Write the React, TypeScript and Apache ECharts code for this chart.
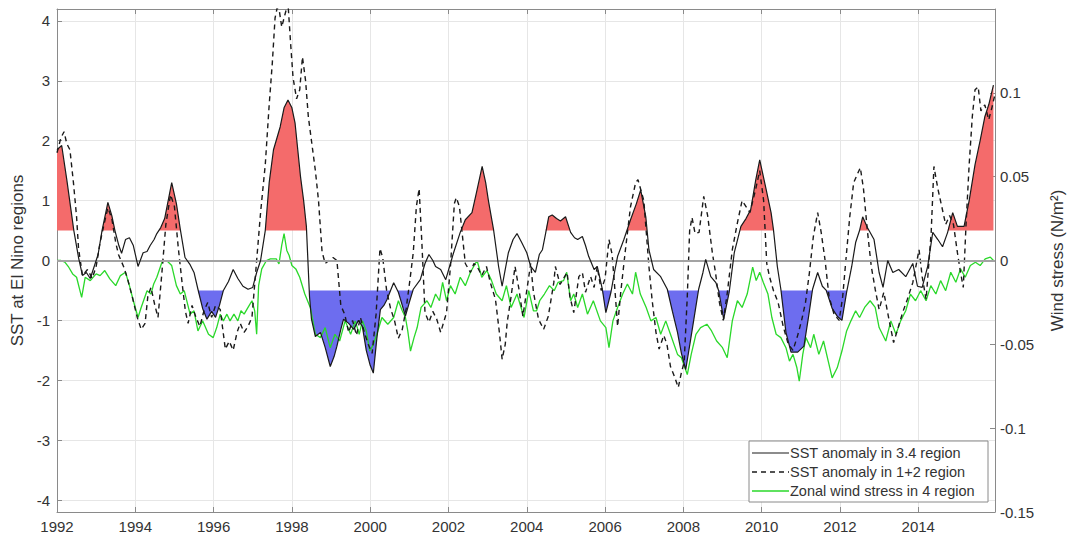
import React, { useEffect, useRef } from "react";
import * as echarts from "echarts";

// Monthly-ish SST anomaly in the Niño 3.4 region (°C)
const sst34Time = [
  1992.0, 1992.12, 1992.25, 1992.43, 1992.55, 1992.65, 1992.75, 1992.85, 1992.95, 1993.05,
  1993.15, 1993.3, 1993.4, 1993.48, 1993.58, 1993.65, 1993.75, 1993.85, 1993.95, 1994.07,
  1994.2, 1994.3, 1994.38, 1994.48, 1994.55, 1994.65, 1994.75, 1994.93, 1995.05, 1995.15,
  1995.27, 1995.4, 1995.5, 1995.6, 1995.72, 1995.83, 1995.95, 1996.05, 1996.15, 1996.25,
  1996.38, 1996.5, 1996.62, 1996.75, 1996.88, 1997.0, 1997.1, 1997.2, 1997.32, 1997.42,
  1997.53, 1997.62, 1997.7, 1997.8, 1997.9, 1998.0, 1998.08, 1998.15, 1998.22, 1998.3,
  1998.37, 1998.45, 1998.5, 1998.6, 1998.73, 1998.85, 1998.98, 1999.08, 1999.15, 1999.25,
  1999.32, 1999.45, 1999.58, 1999.7, 1999.8, 1999.9, 2000.0, 2000.08, 2000.17, 2000.26,
  2000.35, 2000.43, 2000.52, 2000.6, 2000.72, 2000.82, 2000.9, 2001.0, 2001.1, 2001.28,
  2001.4, 2001.5, 2001.6, 2001.67, 2001.8, 2001.93, 2002.05, 2002.13, 2002.3, 2002.43,
  2002.6, 2002.72, 2002.86, 2002.95, 2003.02, 2003.15, 2003.28, 2003.37, 2003.45, 2003.53,
  2003.65, 2003.75, 2003.87, 2004.0, 2004.1, 2004.22, 2004.32, 2004.4, 2004.48, 2004.56,
  2004.65, 2004.76, 2004.86, 2004.99, 2005.12, 2005.22, 2005.3, 2005.42, 2005.5, 2005.58,
  2005.72, 2005.8, 2005.93, 2006.02, 2006.15, 2006.24, 2006.32, 2006.48, 2006.65, 2006.8,
  2006.91, 2007.04, 2007.12, 2007.24, 2007.42, 2007.59, 2007.72, 2007.85, 2007.95, 2008.06,
  2008.19, 2008.3, 2008.39, 2008.5, 2008.57, 2008.7, 2008.83, 2008.9, 2009.03, 2009.17,
  2009.3, 2009.47, 2009.6, 2009.72, 2009.85, 2009.95, 2010.1, 2010.24, 2010.3, 2010.4,
  2010.49, 2010.62, 2010.75, 2010.92, 2011.08, 2011.2, 2011.3, 2011.43, 2011.55, 2011.65,
  2011.8, 2011.93, 2012.05, 2012.17, 2012.3, 2012.4, 2012.5, 2012.58, 2012.7, 2012.87,
  2013.0, 2013.1, 2013.22, 2013.35, 2013.5, 2013.68, 2013.86, 2013.98, 2014.1, 2014.24,
  2014.37, 2014.5, 2014.62, 2014.75, 2014.88, 2015.0, 2015.17, 2015.3, 2015.45, 2015.58,
  2015.7, 2015.8, 2015.92,
];
const sst34Value = [
  1.85, 1.92, 1.35, 0.5, 0.05, -0.25, -0.2, -0.3, -0.1, 0.1,
  0.5, 0.97, 0.75, 0.5, 0.25, 0.12, 0.35, 0.38, 0.25, -0.1,
  0.13, 0.15, 0.25, 0.35, 0.45, 0.55, 0.7, 1.3, 0.95, 0.52,
  0.05, -0.07, -0.2, -0.48, -0.8, -0.98, -0.85, -0.95, -0.75, -0.5,
  -0.35, -0.15, -0.3, -0.43, -0.48, -0.45, -0.2, 0.0, 0.5, 1.3,
  1.85, 2.05, 2.23, 2.55, 2.68, 2.55, 2.3, 1.85, 1.4, 1.0,
  0.57, -0.6, -0.98, -1.27, -1.2, -1.45, -1.77, -1.6, -1.43, -1.15,
  -0.98, -1.05, -1.15, -1.0, -1.1, -1.5, -1.75, -1.88, -1.3, -0.82,
  -0.75, -0.65, -0.5, -0.37, -0.53, -0.75, -0.93, -0.7, -0.48, -0.32,
  -0.05, 0.1, 0.0, -0.1, -0.15, -0.32, -0.05, 0.13, 0.47, 0.68,
  0.8, 1.15, 1.57, 1.3, 1.0, 0.52, -0.1, -0.43, -0.15, 0.13,
  0.35, 0.45, 0.3, 0.13, -0.1, -0.2, 0.1, 0.18, 0.45, 0.73,
  0.76, 0.7, 0.66, 0.73, 0.47, 0.38, 0.35, 0.4, 0.25, 0.07,
  -0.15, -0.1, -0.48, -0.87, -0.53, -0.2, 0.07, 0.35, 0.68, 0.95,
  1.18, 0.73, 0.18, -0.15, -0.27, -0.48, -0.85, -1.2, -1.55, -1.82,
  -1.3, -0.85, -0.48, -0.2, 0.02, -0.27, -0.37, -0.5, -0.98, -0.53,
  0.13, 0.57, 0.7, 0.85, 1.35, 1.68, 1.23, 0.8, 0.52, -0.1,
  -0.48, -1.2, -1.53, -1.53, -1.43, -0.93, -0.48, -0.2, -0.43, -0.5,
  -0.8, -0.93, -1.0, -0.53, -0.1, 0.3, 0.5, 0.73, 0.55, 0.35,
  -0.2, -0.45, 0.0, -0.2, -0.15, -0.27, -0.05, -0.43, -0.45, -0.1,
  0.47, 0.35, 0.23, 0.47, 0.8, 0.57, 0.57, 1.0, 1.6, 2.0,
  2.4, 2.6, 2.93,
];

// SST anomaly in the Niño 1+2 region (°C)
const sst12Time = [
  1992.0, 1992.1, 1992.18, 1992.25, 1992.33, 1992.42, 1992.5, 1992.55, 1992.65, 1992.78,
  1992.9, 1993.0, 1993.1, 1993.2, 1993.3, 1993.4, 1993.5, 1993.57, 1993.7, 1993.8,
  1993.92, 1994.05, 1994.15, 1994.25, 1994.32, 1994.4, 1994.5, 1994.58, 1994.68, 1994.78,
  1994.9, 1995.0, 1995.1, 1995.2, 1995.28, 1995.35, 1995.45, 1995.55, 1995.65, 1995.75,
  1995.85, 1995.95, 1996.05, 1996.17, 1996.3, 1996.4, 1996.5, 1996.6, 1996.68, 1996.78,
  1996.88, 1996.98, 1997.1, 1997.2, 1997.32, 1997.42, 1997.5, 1997.57, 1997.65, 1997.74,
  1997.82, 1997.9, 1997.97, 1998.03, 1998.12, 1998.2, 1998.27, 1998.35, 1998.42, 1998.5,
  1998.6, 1998.68, 1998.77, 1998.85, 1998.95, 1999.05, 1999.15, 1999.25, 1999.35, 1999.45,
  1999.55, 1999.65, 1999.75, 1999.85, 1999.95, 2000.05, 2000.15, 2000.25, 2000.32, 2000.42,
  2000.52, 2000.62, 2000.72, 2000.82, 2000.92, 2001.02, 2001.1, 2001.18, 2001.25, 2001.32,
  2001.4, 2001.5, 2001.6, 2001.7, 2001.8, 2001.95, 2002.05, 2002.15, 2002.2, 2002.28,
  2002.35, 2002.43, 2002.56, 2002.65, 2002.73, 2002.85, 2002.97, 2003.07, 2003.2, 2003.3,
  2003.37, 2003.45, 2003.5, 2003.6, 2003.7, 2003.8, 2003.9, 2004.0, 2004.1, 2004.17,
  2004.3, 2004.43, 2004.55, 2004.69, 2004.73, 2004.85, 2005.03, 2005.1, 2005.2, 2005.33,
  2005.42, 2005.5, 2005.63, 2005.72, 2005.8, 2005.9, 2006.0, 2006.1, 2006.18, 2006.27,
  2006.32, 2006.4, 2006.52, 2006.65, 2006.78, 2006.84, 2006.99, 2007.12, 2007.2, 2007.3,
  2007.38, 2007.5, 2007.58, 2007.67, 2007.78, 2007.87, 2007.95, 2008.02, 2008.1, 2008.16,
  2008.22, 2008.3, 2008.4, 2008.52, 2008.62, 2008.74, 2008.82, 2008.92, 2009.02, 2009.12,
  2009.25, 2009.38, 2009.5, 2009.6, 2009.7, 2009.85, 2009.95, 2010.05, 2010.13, 2010.2,
  2010.3, 2010.42, 2010.55, 2010.68, 2010.8, 2010.92, 2011.02, 2011.12, 2011.22, 2011.32,
  2011.43, 2011.52, 2011.62, 2011.72, 2011.85, 2011.98, 2012.07, 2012.15, 2012.25, 2012.35,
  2012.45, 2012.52, 2012.6, 2012.7, 2012.8, 2012.9, 2013.0, 2013.12, 2013.25, 2013.37,
  2013.45, 2013.6, 2013.72, 2013.86, 2014.02, 2014.1, 2014.2, 2014.33, 2014.4, 2014.5,
  2014.6, 2014.7, 2014.8, 2014.9, 2015.0, 2015.08, 2015.15, 2015.22, 2015.3, 2015.38,
  2015.45, 2015.53, 2015.6, 2015.7, 2015.8, 2015.88, 2015.95,
];
const sst12Value = [
  1.8, 2.05, 2.15, 1.95, 1.85, 1.3, 0.73, 0.2, -0.25, -0.15,
  -0.3, -0.1, 0.3, 0.6, 0.88, 0.7, 0.3, 0.1, -0.1, -0.3,
  -0.6, -0.95, -1.15, -1.05, -0.6, -0.45, -0.75, -0.95, -0.2, 0.6,
  1.1, 0.9, 0.2, -0.4, -0.85, -1.05, -0.75, -0.95, -1.1, -0.85,
  -0.7, -0.95, -0.75, -0.82, -1.48, -1.35, -1.5, -1.2, -1.05, -1.2,
  -1.1, -0.95, 0.0, 0.8, 1.6, 2.6, 3.3, 4.05, 4.3, 3.9,
  4.1, 4.3, 3.6, 3.05, 2.7, 2.85, 3.4, 3.0, 2.4, 2.0,
  1.5, 1.0, 0.15, -0.05, 0.0, 0.05, 0.0, -0.75, -0.9, -1.2,
  -1.0, -1.25, -0.95, -1.2, -1.4, -1.55, -0.9, 0.2, 0.05, -0.5,
  -0.8, -1.0, -1.3, -1.15, -0.8, -0.3, 0.13, 0.9, 1.2, 0.3,
  -0.87, -1.03, -0.85, -0.98, -1.2, -0.87, -0.1, 0.95, 1.05, 0.9,
  0.45, -0.05, -0.2, -0.05, -0.1, -0.25, -0.1, -0.37, -0.65, -1.2,
  -1.65, -1.4, -1.03, -0.6, -0.1, -0.48, -0.93, -0.5, -0.05, -0.53,
  -0.98, -1.15, -0.93, -0.37, -0.1, -0.4, -0.2, -0.6, -0.87, -0.27,
  -0.2, -0.53, -0.27, -0.45, -0.1, -0.5, -0.3, 0.35, 0.1, -0.65,
  -1.1, -0.53, 0.18, 0.9, 1.3, 1.35, 1.0, -0.1, -0.65, -1.2,
  -1.48, -1.25, -1.4, -1.77, -1.95, -2.12, -1.87, -1.7, -0.6, 0.5,
  0.72, 0.45, 0.47, 1.07, 0.75, 0.13, -0.2, -0.7, -1.0, -0.55,
  0.18, 0.63, 1.0, 0.9, 0.8, 1.2, 1.5, 1.0, -0.05, -0.27,
  -0.5, -0.7, -1.1, -1.4, -1.5, -1.25, -1.0, -0.7, -0.2, 0.4,
  0.8, 0.47, 0.0, -0.6, -0.9, -1.0, -0.6, 0.0, 0.73, 1.3,
  1.45, 1.55, 1.2, 0.5, -0.1, -0.48, -0.82, -0.53, -0.98, -1.37,
  -1.2, -0.87, -0.65, -0.37, 0.18, -0.27, -0.65, 0.47, 1.57, 1.2,
  0.9, 0.6, 0.75, 0.6, 0.13, -0.2, -0.45, 0.6, 1.6, 2.4,
  2.85, 2.9, 2.5, 2.6, 2.35, 2.55, 2.75,
];

// Zonal wind stress in the Niño 4 region (N/m²)
const windTime = [
  1992.0, 1992.1, 1992.2, 1992.3, 1992.4, 1992.5, 1992.63, 1992.72, 1992.85, 1993.0,
  1993.1, 1993.22, 1993.35, 1993.5, 1993.62, 1993.75, 1993.85, 1993.95, 1994.07, 1994.15,
  1994.3, 1994.4, 1994.47, 1994.55, 1994.68, 1994.8, 1994.93, 1995.05, 1995.15, 1995.25,
  1995.4, 1995.5, 1995.6, 1995.72, 1995.87, 1995.99, 1996.08, 1996.17, 1996.25, 1996.34,
  1996.42, 1996.52, 1996.62, 1996.7, 1996.78, 1996.88, 1996.98, 1997.05, 1997.1, 1997.15,
  1997.23, 1997.35, 1997.45, 1997.6, 1997.67, 1997.74, 1997.8, 1997.87, 1997.93, 1998.0,
  1998.1, 1998.2, 1998.33, 1998.47, 1998.6, 1998.73, 1998.85, 1998.98, 1999.1, 1999.22,
  1999.36, 1999.5, 1999.62, 1999.72, 1999.8, 1999.9, 1999.99, 2000.08, 2000.17, 2000.3,
  2000.45, 2000.6, 2000.72, 2000.82, 2000.9, 2000.96, 2001.03, 2001.12, 2001.2, 2001.3,
  2001.45, 2001.55, 2001.67, 2001.77, 2001.85, 2001.95, 2002.05, 2002.17, 2002.3, 2002.43,
  2002.56, 2002.73, 2002.85, 2002.98, 2003.1, 2003.22, 2003.37, 2003.48, 2003.6, 2003.75,
  2003.93, 2004.05, 2004.17, 2004.25, 2004.33, 2004.45, 2004.58, 2004.7, 2004.8, 2004.94,
  2005.02, 2005.12, 2005.2, 2005.3, 2005.42, 2005.55, 2005.7, 2005.88, 2006.02, 2006.1,
  2006.2, 2006.32, 2006.45, 2006.57, 2006.7, 2006.78, 2006.9, 2007.05, 2007.17, 2007.3,
  2007.42, 2007.55, 2007.67, 2007.85, 2007.95, 2008.1, 2008.2, 2008.32, 2008.44, 2008.6,
  2008.72, 2008.85, 2009.0, 2009.12, 2009.25, 2009.38, 2009.5, 2009.63, 2009.77, 2009.86,
  2009.95, 2010.04, 2010.16, 2010.26, 2010.37, 2010.49, 2010.62, 2010.71, 2010.8, 2010.9,
  2010.96, 2011.05, 2011.13, 2011.25, 2011.33, 2011.46, 2011.58, 2011.7, 2011.8, 2011.93,
  2012.05, 2012.17, 2012.28, 2012.4, 2012.5, 2012.63, 2012.77, 2012.9, 2013.0, 2013.17,
  2013.3, 2013.43, 2013.55, 2013.68, 2013.8, 2013.93, 2014.06, 2014.2, 2014.32, 2014.45,
  2014.57, 2014.7, 2014.83, 2014.96, 2015.08, 2015.2, 2015.33, 2015.46, 2015.58, 2015.71,
  2015.84, 2015.92,
];
const windValue = [
  0.0, 0.0, -0.001, -0.004, -0.008, -0.01, -0.022, -0.01, -0.012, -0.008,
  -0.009, -0.006, -0.011, -0.015, -0.009, -0.007, -0.015, -0.024, -0.034, -0.028,
  -0.018, -0.02, -0.014, -0.01, -0.001, 0.0, -0.003, -0.015, -0.02, -0.018,
  -0.032, -0.03, -0.042, -0.036, -0.044, -0.046, -0.04, -0.032, -0.036, -0.032,
  -0.036, -0.032, -0.036, -0.03, -0.032, -0.028, -0.024, -0.03, -0.044, -0.015,
  -0.005, 0.0, 0.001, 0.001, -0.002, 0.009, 0.016, 0.006, 0.003, -0.003,
  -0.005, -0.01, -0.02, -0.028, -0.044, -0.046, -0.04, -0.052, -0.044, -0.048,
  -0.036, -0.044, -0.036, -0.044, -0.036, -0.042, -0.054, -0.05, -0.044, -0.034,
  -0.038, -0.034, -0.024, -0.03, -0.034, -0.042, -0.054, -0.046, -0.04, -0.028,
  -0.024, -0.028, -0.02, -0.024, -0.013, -0.024, -0.015, -0.02, -0.01, -0.015,
  -0.007, 0.0, -0.01, -0.006, -0.012, -0.02, -0.024, -0.015, -0.028, -0.02,
  -0.034, -0.018, -0.03, -0.03, -0.024, -0.02, -0.015, -0.018, -0.013, -0.012,
  -0.007, -0.024, -0.02, -0.028, -0.02, -0.032, -0.024, -0.036, -0.04, -0.052,
  -0.036, -0.028, -0.02, -0.014, -0.02, -0.007, -0.02, -0.028, -0.036, -0.034,
  -0.044, -0.036, -0.044, -0.056, -0.058, -0.068, -0.056, -0.044, -0.04, -0.038,
  -0.042, -0.048, -0.052, -0.058, -0.036, -0.024, -0.028, -0.02, -0.004, -0.012,
  -0.007, -0.013, -0.02, -0.034, -0.044, -0.046, -0.052, -0.06, -0.056, -0.064,
  -0.072, -0.056, -0.046, -0.052, -0.044, -0.056, -0.048, -0.06, -0.07, -0.064,
  -0.054, -0.042, -0.036, -0.03, -0.034, -0.028, -0.024, -0.028, -0.04, -0.048,
  -0.036, -0.044, -0.036, -0.03, -0.02, -0.024, -0.018, -0.024, -0.015, -0.02,
  -0.012, -0.018, -0.007, -0.013, -0.005, -0.01, -0.003, -0.001, -0.003, 0.001,
  0.002, 0.0,
];

// Tick positions
const yearTicks = [1992, 1994, 1996, 1998, 2000, 2002, 2004, 2006, 2008, 2010, 2012, 2014];
const sstTicks = [-4, -3, -2, -1, 0, 1, 2, 3, 4];
const windTicks = [-0.15, -0.1, -0.05, 0, 0.05, 0.1];

// El Niño / La Niña thresholds on the 3.4 index
const warmThreshold = 0.5;
const coldThreshold = -0.5;

const legendLabels = [
  "SST anomaly in 3.4 region",
  "SST anomaly in 1+2 region",
  "Zonal wind stress in 4 region",
];

const FONT = "'Liberation Sans', Arial, Helvetica, sans-serif";
const LABEL_COLOR = "#333333";
const AXIS_COLOR = "#8a8a8a";

function pairs(xs: number[], ys: number[]) {
  return xs.map((x, i) => [x, ys[i]]);
}

// Clamp the index to one side of a threshold, inserting the exact crossing
// points so the shaded area follows the plotted line.
function clipToThreshold(xs: number[], ys: number[], thr: number, above: boolean) {
  const out: number[][] = [];
  for (let i = 0; i < xs.length; i++) {
    if (i > 0) {
      const y0 = ys[i - 1];
      const y1 = ys[i];
      if ((y0 - thr) * (y1 - thr) < 0) {
        const t = (thr - y0) / (y1 - y0);
        out.push([xs[i - 1] + t * (xs[i] - xs[i - 1]), thr]);
      }
    }
    out.push([xs[i], above ? Math.max(ys[i], thr) : Math.min(ys[i], thr)]);
  }
  return out;
}

export default function App() {
  const ref = useRef<HTMLDivElement>(null);

  useEffect(() => {
    if (!ref.current) return;
    const chart = echarts.init(ref.current, undefined, { renderer: "svg" });

    const gridLeft = 57;
    const gridRight = 87;
    const gridTop = 9;
    const gridBottom = 27;

    const legendX = 749;
    const legendY = 441;
    const legendW = 239;
    const legendH = 61;
    const rowY = [453, 472, 491];

    const legendGraphic: any[] = [
      {
        type: "rect",
        shape: { x: legendX, y: legendY, width: legendW, height: legendH },
        style: { fill: "#ffffff", stroke: AXIS_COLOR, lineWidth: 1 },
        z: 100,
      },
      {
        type: "line",
        shape: { x1: legendX + 3, y1: rowY[0], x2: legendX + 40, y2: rowY[0] },
        style: { stroke: "#1a1a1a", lineWidth: 1.2 },
        z: 101,
      },
      {
        type: "line",
        shape: { x1: legendX + 3, y1: rowY[1], x2: legendX + 40, y2: rowY[1] },
        style: { stroke: "#1a1a1a", lineWidth: 1.4, lineDash: [5, 4] },
        z: 101,
      },
      {
        type: "line",
        shape: { x1: legendX + 3, y1: rowY[2], x2: legendX + 40, y2: rowY[2] },
        style: { stroke: "#2ad82a", lineWidth: 1.3 },
        z: 101,
      },
      ...legendLabels.map((t, i) => ({
        type: "text",
        x: legendX + 41,
        y: rowY[i],
        style: {
          text: t,
          fill: LABEL_COLOR,
          font: `14.5px ${FONT}`,
          verticalAlign: "middle",
          align: "left",
        },
        z: 101,
      })),
    ];

    chart.setOption({
      animation: false,
      backgroundColor: "#ffffff",
      textStyle: { fontFamily: FONT },
      grid: { left: gridLeft, right: gridRight, top: gridTop, bottom: gridBottom, containLabel: false },
      xAxis: [
        {
          type: "value",
          min: 1992,
          max: 2015.96,
          axisLine: { show: true, onZero: false, lineStyle: { color: AXIS_COLOR, width: 1 } },
          axisTick: { show: true, inside: true, length: 5, customValues: yearTicks, lineStyle: { color: AXIS_COLOR } },
          axisLabel: {
            show: true,
            customValues: yearTicks,
            color: LABEL_COLOR,
            fontSize: 15,
            fontFamily: FONT,
            margin: 7,
            formatter: (v: number) => String(v),
          },
          splitLine: { show: true, lineStyle: { color: "#e6e6e6", width: 1 } },
        },
        {
          type: "value",
          position: "top",
          min: 1992,
          max: 2015.96,
          axisLine: { show: true, onZero: false, lineStyle: { color: AXIS_COLOR, width: 1 } },
          axisTick: { show: true, inside: true, length: 5, customValues: yearTicks, lineStyle: { color: AXIS_COLOR } },
          axisLabel: { show: false },
          splitLine: { show: false },
        },
      ],
      yAxis: [
        {
          type: "value",
          min: -4.2,
          max: 4.2,
          position: "left",
          name: "SST at El Nino regions",
          nameLocation: "middle",
          nameRotate: 90,
          nameGap: 28,
          nameTextStyle: { color: LABEL_COLOR, fontSize: 17, fontFamily: FONT },
          axisLine: { show: true, onZero: false, lineStyle: { color: AXIS_COLOR, width: 1 } },
          axisTick: { show: true, inside: true, length: 5, customValues: sstTicks, lineStyle: { color: AXIS_COLOR } },
          axisLabel: { show: true, customValues: sstTicks, color: LABEL_COLOR, fontSize: 15, fontFamily: FONT, margin: 7 },
          splitLine: { show: true, lineStyle: { color: "#e6e6e6", width: 1 } },
        },
        {
          type: "value",
          min: -0.15,
          max: 0.15,
          position: "right",
          name: "Wind stress (N/m²)",
          nameLocation: "middle",
          nameRotate: 90,
          nameGap: 54,
          nameTextStyle: { color: LABEL_COLOR, fontSize: 17, fontFamily: FONT },
          axisLine: { show: true, onZero: false, lineStyle: { color: AXIS_COLOR, width: 1 } },
          axisTick: { show: true, inside: true, length: 5, customValues: windTicks, lineStyle: { color: AXIS_COLOR } },
          axisLabel: { show: true, customValues: windTicks, color: LABEL_COLOR, fontSize: 15, fontFamily: FONT, margin: 5 },
          splitLine: { show: false },
        },
      ],
      series: [
        {
          name: "warm",
          type: "line",
          xAxisIndex: 0,
          yAxisIndex: 0,
          data: clipToThreshold(sst34Time, sst34Value, warmThreshold, true),
          showSymbol: false,
          lineStyle: { width: 0, opacity: 0 },
          areaStyle: { color: "#f46b6b", opacity: 1, origin: warmThreshold },
          silent: true,
          z: 1,
          markLine: {
            silent: true,
            symbol: "none",
            label: { show: false },
            lineStyle: { color: "#a3a3a3", width: 2, type: "solid" },
            data: [{ yAxis: 0 }],
          },
        },
        {
          name: "cold",
          type: "line",
          xAxisIndex: 0,
          yAxisIndex: 0,
          data: clipToThreshold(sst34Time, sst34Value, coldThreshold, false),
          showSymbol: false,
          lineStyle: { width: 0, opacity: 0 },
          areaStyle: { color: "#6d6def", opacity: 1, origin: coldThreshold },
          silent: true,
          z: 1,
        },
        {
          name: legendLabels[2],
          type: "line",
          xAxisIndex: 0,
          yAxisIndex: 1,
          data: pairs(windTime, windValue),
          showSymbol: false,
          lineStyle: { color: "#2ad82a", width: 1.3 },
          z: 3,
        },
        {
          name: legendLabels[1],
          type: "line",
          xAxisIndex: 0,
          yAxisIndex: 0,
          data: pairs(sst12Time, sst12Value),
          showSymbol: false,
          lineStyle: { color: "#1a1a1a", width: 1.4, type: [5, 4] },
          z: 4,
        },
        {
          name: legendLabels[0],
          type: "line",
          xAxisIndex: 0,
          yAxisIndex: 0,
          data: pairs(sst34Time, sst34Value),
          showSymbol: false,
          lineStyle: { color: "#1a1a1a", width: 1.2 },
          z: 5,
        },
      ],
      graphic: legendGraphic,
    });

    return () => chart.dispose();
  }, []);

  return (
    <div
      ref={ref}
      style={{ position: "fixed", left: 0, top: 0, width: 1082, height: 539, background: "#ffffff" }}
    />
  );
}
